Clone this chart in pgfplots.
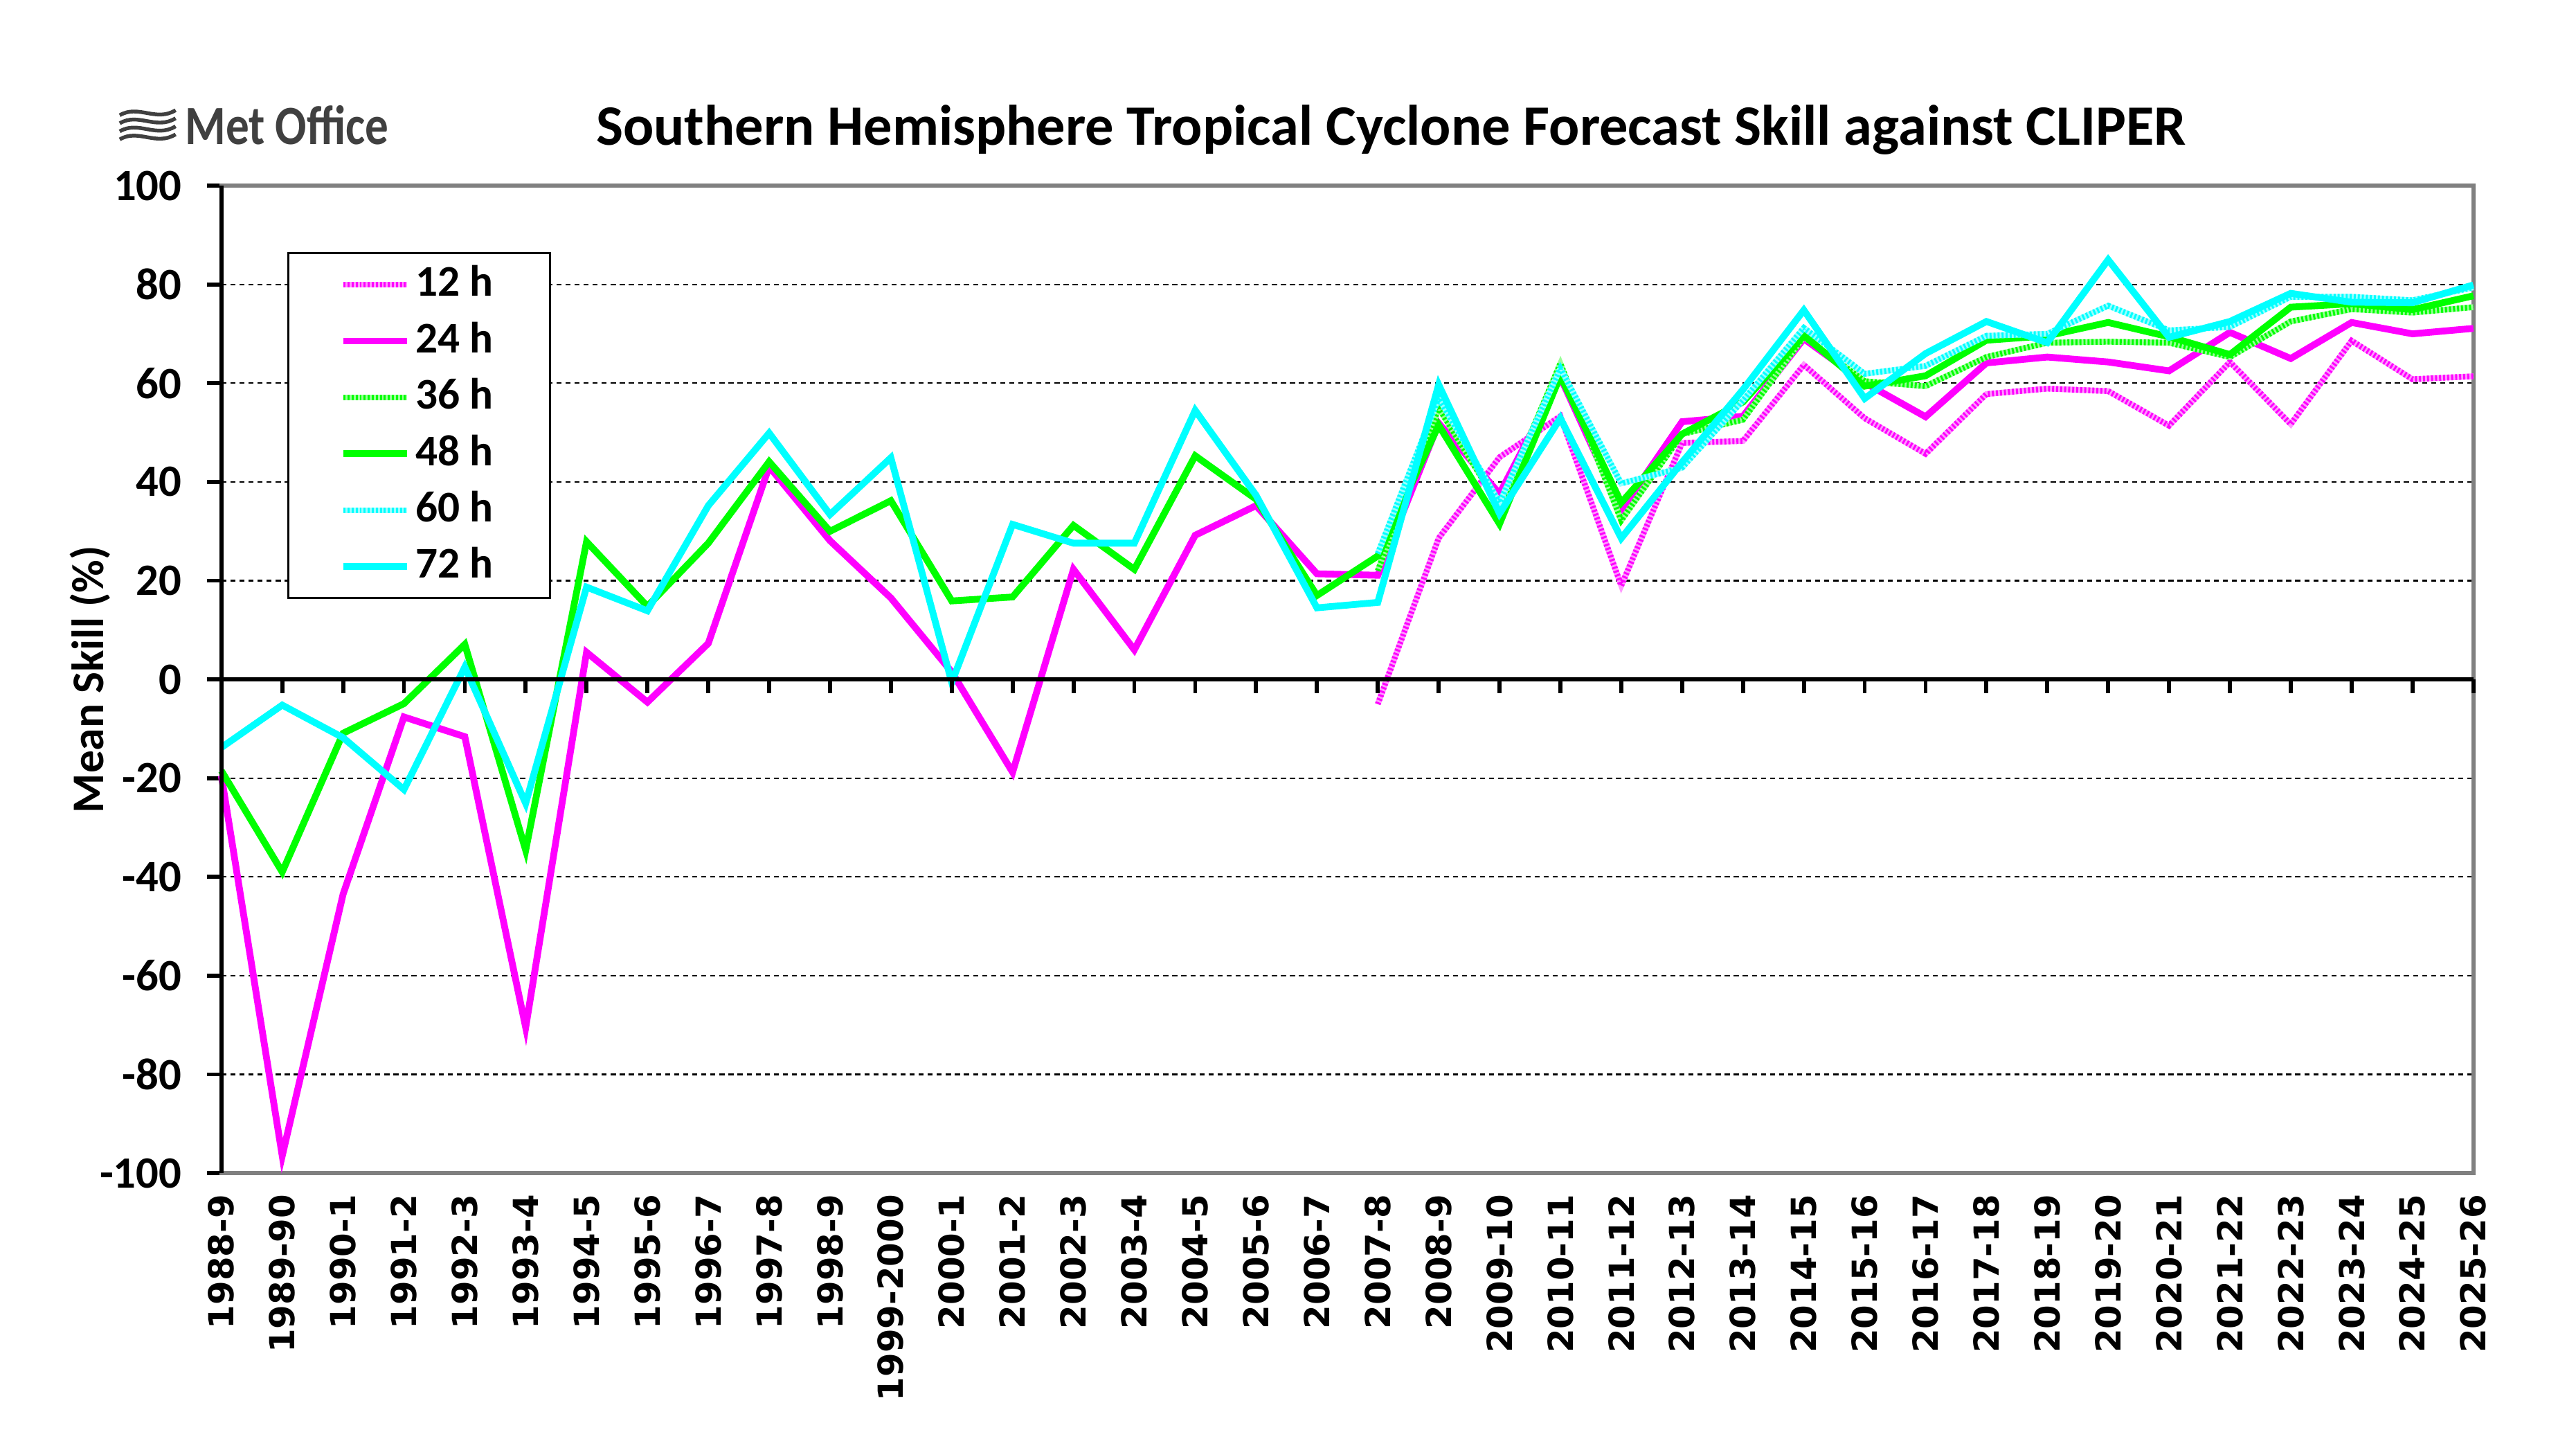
\documentclass[border=0pt]{standalone}
\usepackage{pgfplots}
\pgfplotsset{compat=1.18}
\usepackage{pgfplotstable}
\usepackage{fontspec}
\setmainfont{Carlito}
\newfontfamily\dejavu{DejaVu Sans}
\definecolor{mag}{RGB}{255,0,255}
\definecolor{grn}{RGB}{0,255,0}
\definecolor{cyn}{RGB}{0,255,255}
\definecolor{logogray}{RGB}{64,64,64}

\pgfplotstableread{
x  h24    h48    h72
0  -19.5  -18.5  -13.8
1  -96.5  -39.0  -5.2
2  -43.5  -10.9  -11.8
3  -7.6   -4.9   -22.3
4  -11.6  7.1    2.5
5  -70.5  -34.6  -25.1
6  5.5    27.9   18.7
7  -4.6   14.8   13.9
8  7.3    27.6   35.2
9  43.1   44.1   49.9
10 28.1   30.0   33.4
11 16.5   36.2   44.9
12 1.5    15.9   -0.6
13 -18.8  16.7   31.4
14 22.3   31.2   27.6
15 6.0    22.3   27.6
16 29.2   45.3   54.5
17 35.2   36.5   37.3
18 21.4   17.0   14.5
19 21.1   25.0   15.6
20 51.9   51.5   59.7
21 37.6   31.5   33.6
22 61.2   61.5   52.9
23 34.3   35.8   28.6
24 52.2   49.7   44.0
25 53.3   56.2   58.7
26 69.0   69.7   74.8
27 60.1   59.4   56.9
28 53.2   61.5   66.0
29 64.1   68.7   72.5
30 65.3   69.6   68.2
31 64.3   72.3   85.0
32 62.5   69.4   69.3
33 70.3   65.8   72.5
34 65.0   75.4   78.2
35 72.3   76.1   76.4
36 70.0   74.9   76.3
37 71.1   77.7   79.9
}\solid

\pgfplotstableread{
x  h12    h36    h60
19 -5.0   22.0   25.5
20 28.6   55.0   57.0
21 45.0   35.0   35.8
22 53.3   64.0   63.0
23 19.0   32.2   39.7
24 47.9   49.7   42.9
25 48.3   52.6   56.5
26 63.7   69.4   71.2
27 52.9   60.4   61.9
28 45.7   59.4   63.5
29 57.8   65.3   69.6
30 58.9   68.2   70.0
31 58.4   68.4   75.7
32 51.4   68.2   70.7
33 64.3   65.3   71.4
34 51.7   72.5   77.5
35 68.6   75.0   77.5
36 60.8   74.3   76.8
37 61.4   75.4   79.4
}\patterned

\begin{document}
\begin{tikzpicture}
\useasboundingbox (-44pt,-51pt) rectangle (468pt,233.1pt);
\begin{axis}[
  at={(0,0)}, anchor=south west,
  scale only axis, width=447.6pt, height=196.2pt,
  xmin=0, xmax=37, ymin=-100, ymax=100,
  axis line style={draw=gray, line width=0.8pt},
  xtick={0,...,37},
  xticklabels={1988-9,1989-90,1990-1,1991-2,1992-3,1993-4,1994-5,1995-6,1996-7,1997-8,1998-9,1999-2000,2000-1,2001-2,2002-3,2003-4,2004-5,2005-6,2006-7,2007-8,2008-9,2009-10,2010-11,2011-12,2012-13,2013-14,2014-15,2015-16,2016-17,2017-18,2018-19,2019-20,2020-21,2021-22,2022-23,2023-24,2024-25,2025-26},
  xtick style={draw=none},
  xticklabel style={rotate=90, anchor=east, font=\dejavu\bfseries\fontsize{6.85}{8}\selectfont, inner sep=0pt, xshift=-1.3pt},
  ytick={-100,-80,...,100},
  yticklabels={-100,-80,-60,-40,-20,0,20,40,60,80,100},
  ytick pos=left,
  tick align=outside,
  major tick length=2.8pt,
  ytick style={draw=black, line width=0.8pt},
  yticklabel style={font=\bfseries\fontsize{8.9}{10}\selectfont, inner sep=0pt, xshift=-4.9pt},
  ymajorgrids,
  grid style={black, line width=0.3pt, dash pattern=on 1pt off 0.8pt},
  legend cell align=left,
  legend style={at={(0.0293,0.933)}, anchor=north west, draw=black, line width=0.4pt,
     fill=white, font=\bfseries\fontsize{8.7}{10}\selectfont,
     inner xsep=10.3pt, inner ysep=1.5pt, row sep=1.6pt, nodes={inner sep=1pt}},
  legend image code/.code={\draw[#1] (0pt,0pt) -- (12.6pt,0pt);},
  clip=false,
]
\addplot[mag!40, line width=1.15pt, postaction={draw=mag, line width=1.15pt, dash pattern=on 0.4pt off 0.4pt}] table[x=x,y=h12] {\patterned};
\addlegendentry{12 h}
\addplot[mag, line width=1.35pt] table[x=x,y=h24] {\solid};
\addlegendentry{24 h}
\addplot[grn!40, line width=1.15pt, postaction={draw=grn, line width=1.15pt, dash pattern=on 0.4pt off 0.4pt}] table[x=x,y=h36] {\patterned};
\addlegendentry{36 h}
\addplot[grn, line width=1.35pt] table[x=x,y=h48] {\solid};
\addlegendentry{48 h}
\addplot[cyn!40, line width=1.15pt, postaction={draw=cyn, line width=1.15pt, dash pattern=on 0.4pt off 0.4pt}] table[x=x,y=h60] {\patterned};
\addlegendentry{60 h}
\addplot[cyn, line width=1.35pt] table[x=x,y=h72] {\solid};
\addlegendentry{72 h}
\draw[black, line width=0.8pt] (axis cs:0,0) -- (axis cs:37,0);
\pgfplotsinvokeforeach{1,...,37}{\draw[black, line width=0.8pt] (axis cs:#1,0) -- (axis cs:#1,-2.85);}
\draw[black, line width=0.8pt] (rel axis cs:0,0) -- (rel axis cs:0,1);
\end{axis}
\node[rotate=90, font=\bfseries\fontsize{9}{10}\selectfont] at (-26.1pt,98.1pt) {Mean Skill (\%)};
\node[anchor=base, font=\bfseries\fontsize{11.35}{13}\selectfont] at (232.5pt,204.3pt) {Southern Hemisphere Tropical Cyclone Forecast Skill against CLIPER};
\node[anchor=west, inner sep=0pt, text=logogray, font=\bfseries\fontsize{11}{13}\selectfont] at (-7.4pt,208.3pt) {\scalebox{0.84}[1]{Met Office}};
\foreach \k in {0,1,2,3}{
  \draw[logogray, line width=0.75pt] (-20.2pt,{205.4pt+1.6pt*\k}) .. controls (-16.5pt,{207.6pt+1.6pt*\k}) and (-13pt,{204.0pt+1.6pt*\k}) .. (-9.1pt,{206.4pt+1.6pt*\k});
}
\end{tikzpicture}
\end{document}
